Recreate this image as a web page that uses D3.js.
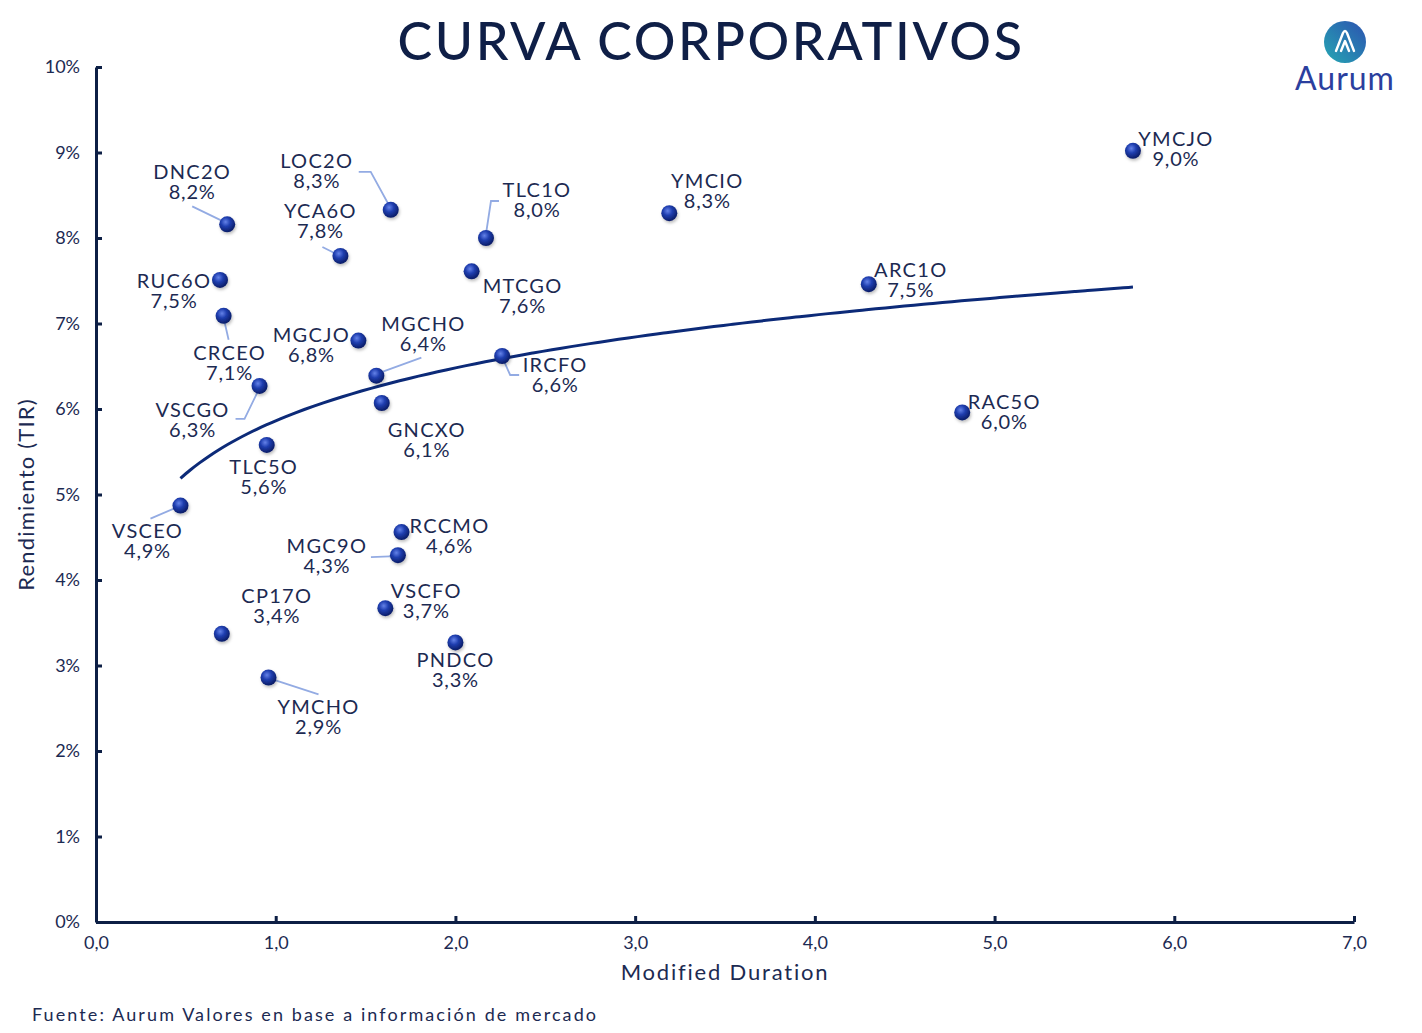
<!DOCTYPE html>
<html>
<head>
<meta charset="utf-8">
<script src="https://cdn.jsdelivr.net/npm/d3@7"></script>
<style>
  body { margin: 0; background: #fff; }
  text { font-family: Lato, "Open Sans", sans-serif; }
</style>
</head>
<body>
<div id="chart"></div>
<script>
// bonds: ticker, modified duration, yield (TIR %)
const tickers = ['YMCJO', 'YMCIO', 'TLC1O', 'LOC2O', 'DNC2O', 'YCA6O', 'MTCGO', 'RUC6O', 'CRCEO', 'MGCJO', 'MGCHO', 'IRCFO',
  'ARC1O', 'RAC5O', 'VSCGO', 'GNCXO', 'TLC5O', 'VSCEO', 'RCCMO', 'MGC9O', 'VSCFO', 'PNDCO', 'CP17O', 'YMCHO']
const durations = [5.77, 3.19, 2.17, 1.64, 0.73, 1.36, 2.09, 0.69, 0.71, 1.46, 1.56, 2.26,
  4.30, 4.82, 0.91, 1.59, 0.95, 0.47, 1.70, 1.68, 1.61, 2.00, 0.70, 0.96]
const yields = [9.02, 8.29, 8.00, 8.33, 8.16, 7.79, 7.61, 7.51, 7.09, 6.80, 6.39, 6.62,
  7.46, 5.96, 6.27, 6.07, 5.58, 4.87, 4.56, 4.29, 3.67, 3.27, 3.37, 2.86]

const xTicks = [0, 1, 2, 3, 4, 5, 6, 7]
const yTicks = [0, 1, 2, 3, 4, 5, 6, 7, 8, 9, 10]

// label placement (pixels from the point) and leader lines, layout only
const labelPos = {
  YMCJO: [43, -12], YMCIO: [38, -32], TLC1O: [51, -48], LOC2O: [-74, -49], DNC2O: [-35, -52],
  YCA6O: [-20, -45], MTCGO: [51, 15], RUC6O: [-46, 1], CRCEO: [6, 37], MGCJO: [-47, -6],
  MGCHO: [47, -52], IRCFO: [53, 9], ARC1O: [42, -14], RAC5O: [42, -10], VSCGO: [-67, 24],
  GNCXO: [45, 27], TLC5O: [-3, 22], VSCEO: [-33, 25], RCCMO: [48, -6], MGC9O: [-71, -9],
  VSCFO: [41, -17], PNDCO: [0, 18], CP17O: [55, -38], YMCHO: [50, 30]
}
const leaders = {
  TLC1O: [[0, -4], [5, -37], [13, -37]],
  LOC2O: [[-32, -38], [-20, -38], [-2, -5]],
  DNC2O: [[-35, -18], [-2, -2]],
  YCA6O: [[-18, -9], [-2, -1]],
  CRCEO: [[0, 2], [5, 24]],
  MGCHO: [[1, -2], [45, -18]],
  IRCFO: [[0, 1], [8, 19], [17, 19]],
  VSCGO: [[0, 2], [-15, 33], [-24, 33]],
  VSCEO: [[-2, 1], [-30, 13]],
  MGC9O: [[-27, 2], [-2, 1]],
  YMCHO: [[4, 2], [50, 17]]
}

const data = tickers.map((t, i) => ({ name: t, dur: durations[i], y: yields[i] }))

const width = 1422
const height = 1033
const margin = { top: 67, right: 68, bottom: 111, left: 96 }
const navy = '#0d1f45'
const textColor = '#1c2a52'

const svg = d3.select('#chart').append('svg').attr('width', width).attr('height', height)
const defs = svg.append('defs')

const ball = defs.append('radialGradient').attr('id', 'ball').attr('cx', '40%').attr('cy', '35%').attr('r', '65%')
ball.append('stop').attr('offset', '0%').attr('stop-color', '#6482e8')
ball.append('stop').attr('offset', '45%').attr('stop-color', '#1f3eaf')
ball.append('stop').attr('offset', '100%').attr('stop-color', '#0a1c66')

const logoGrad = defs.append('linearGradient').attr('id', 'logo').attr('x1', '0%').attr('y1', '100%').attr('x2', '100%').attr('y2', '0%')
logoGrad.append('stop').attr('offset', '0%').attr('stop-color', '#25a7b3')
logoGrad.append('stop').attr('offset', '100%').attr('stop-color', '#2c52b0')

const shadow = defs.append('filter').attr('id', 'shadow').attr('x', '-50%').attr('y', '-50%').attr('width', '200%').attr('height', '200%')
shadow.append('feDropShadow').attr('dx', 1).attr('dy', 2).attr('stdDeviation', 1.5).attr('flood-color', '#000').attr('flood-opacity', 0.25)

const x = d3.scaleLinear().domain([0, 7]).range([margin.left, width - margin.right])
const y = d3.scaleLinear().domain([0, 10]).range([height - margin.bottom, margin.top])
const fmt = (v, d) => v.toFixed(d).replace('.', ',')

// axes
const xAxis = svg.append('g')
  .attr('transform', `translate(0,${y(0)})`)
  .call(d3.axisBottom(x).tickValues(xTicks).tickSizeInner(-6).tickSizeOuter(0).tickPadding(14).tickFormat(d => fmt(d, 1)))
const yAxis = svg.append('g')
  .attr('transform', `translate(${x(0)},0)`)
  .call(d3.axisLeft(y).tickValues(yTicks).tickSizeInner(-6).tickSizeOuter(0).tickPadding(16).tickFormat(d => d + '%'))

for (const ax of [xAxis, yAxis]) {
  ax.select('.domain').attr('stroke', navy).attr('stroke-width', 3)
  ax.selectAll('.tick line').attr('stroke', navy).attr('stroke-width', 3)
  ax.selectAll('.tick text').attr('fill', textColor).style('font-size', '18px').style('font-family', 'Lato, sans-serif')
}

// log trend line fitted on the points
const lx = data.map(d => Math.log(d.dur))
const mx = d3.mean(lx)
const my = d3.mean(data, d => d.y)
const b = d3.sum(data, (d, i) => (lx[i] - mx) * (d.y - my)) / d3.sum(lx, v => (v - mx) ** 2)
const a = my - b * mx
const [dMin, dMax] = d3.extent(durations)
const trend = d3.range(0, 101).map(i => dMin + (dMax - dMin) * i / 100).map(d => ({ dur: d, y: a + b * Math.log(d) }))

svg.append('path')
  .attr('d', d3.line().x(d => x(d.dur)).y(d => y(d.y)).curve(d3.curveMonotoneX)(trend))
  .attr('fill', 'none')
  .attr('stroke', '#0c2a78')
  .attr('stroke-width', 3)

// leader lines
svg.append('g')
  .selectAll('path')
  .data(data.filter(d => leaders[d.name]))
  .join('path')
  .attr('d', d => d3.line()(leaders[d.name].map(p => [x(d.dur) + p[0], y(d.y) + p[1]])))
  .attr('fill', 'none')
  .attr('stroke', '#93abe3')
  .attr('stroke-width', 1.8)

// points
svg.append('g')
  .selectAll('circle')
  .data(data)
  .join('circle')
  .attr('cx', d => x(d.dur))
  .attr('cy', d => y(d.y))
  .attr('r', 8)
  .attr('fill', 'url(#ball)')
  .attr('filter', 'url(#shadow)')

// labels: name line and value line as separate texts
const labelG = svg.append('g')
  .selectAll('g')
  .data(data)
  .join('g')
  .attr('transform', d => `translate(${x(d.dur) + labelPos[d.name][0]},${y(d.y) + labelPos[d.name][1]})`)

labelG.append('text')
  .attr('dy', '0.35em')
  .attr('text-anchor', 'middle')
  .attr('fill', textColor)
  .style('font-size', '20px')
  .style('letter-spacing', '1.3px')
  .text(d => d.name)

labelG.append('text')
  .attr('y', 20)
  .attr('dy', '0.35em')
  .attr('text-anchor', 'middle')
  .attr('fill', textColor)
  .style('font-size', '20px')
  .style('letter-spacing', '0.8px')
  .text(d => fmt(d.y, 1) + '%')

// titles
svg.append('text')
  .attr('x', 711).attr('y', 60)
  .attr('text-anchor', 'middle')
  .attr('fill', '#0f1f47')
  .style('font-size', '52px')
  .style('font-weight', 500)
  .style('letter-spacing', '2.6px')
  .text('CURVA CORPORATIVOS')

svg.append('text')
  .attr('x', (x(0) + x(7)) / 2).attr('y', 980)
  .attr('text-anchor', 'middle')
  .attr('fill', textColor)
  .style('font-size', '22px')
  .style('letter-spacing', '1.8px')
  .text('Modified Duration')

svg.append('text')
  .attr('transform', `translate(34,${(y(0) + y(10)) / 2}) rotate(-90)`)
  .attr('text-anchor', 'middle')
  .attr('fill', textColor)
  .style('font-size', '22px')
  .style('letter-spacing', '1.2px')
  .text('Rendimiento (TIR)')

svg.append('text')
  .attr('x', 32).attr('y', 1021)
  .attr('fill', textColor)
  .style('font-size', '18px')
  .style('letter-spacing', '2.1px')
  .text('Fuente: Aurum Valores en base a información de mercado')

// logo
const logo = svg.append('g').attr('transform', 'translate(1345,42)')
logo.append('circle').attr('r', 21).attr('fill', 'url(#logo)')
logo.append('path')
  .attr('d', 'M-9,9 L-2,-9 Q0,-13 2,-9 L9,9 M-4,9 L0,-1 L4,9')
  .attr('fill', 'none').attr('stroke', '#fff').attr('stroke-width', 2.4).attr('stroke-linejoin', 'round').attr('stroke-linecap', 'round')
svg.append('text')
  .attr('x', 1345).attr('y', 90)
  .attr('text-anchor', 'middle')
  .attr('fill', '#2b3f9e')
  .style('font-size', '32px')
  .style('letter-spacing', '1px')
  .text('Aurum')
</script>
</body>
</html>
